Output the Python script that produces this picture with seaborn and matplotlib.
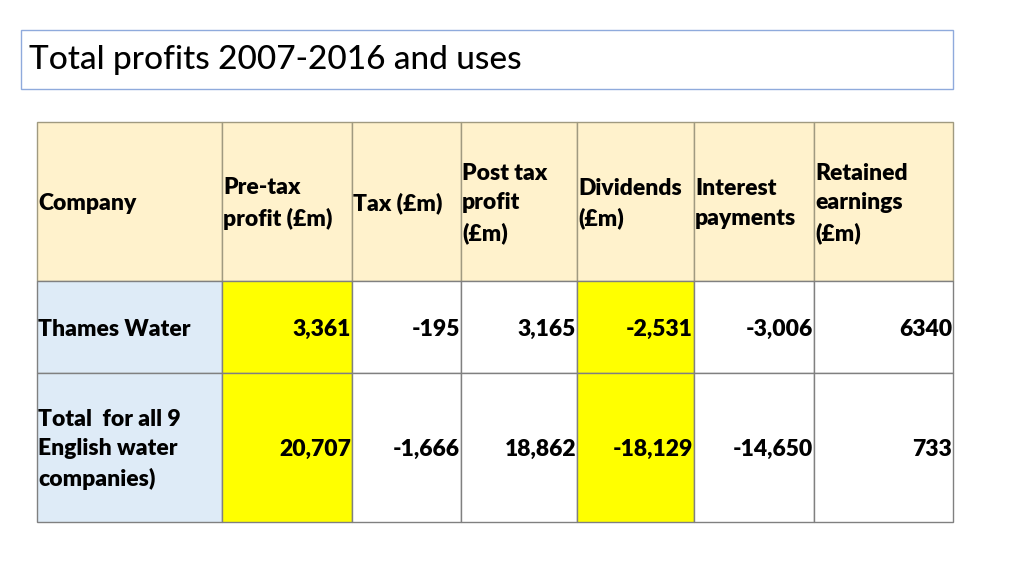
import matplotlib
matplotlib.use("Agg")
import matplotlib.pyplot as plt
from matplotlib.patches import Rectangle
import seaborn as sns

sns.set_theme(style="white")
plt.rcParams['font.family'] = ['Lato', 'DejaVu Sans']

title = "Total profits 2007-2016 and uses"
headers = ["Company", "Pre-tax\nprofit (£m)", "Tax (£m)", "Post tax\nprofit\n(£m)",
           "Dividends\n(£m)", "Interest\npayments", "Retained\nearnings\n(£m)"]
companies = ["Thames Water", "Total  for all 9\nEnglish water\ncompanies)"]
pre_tax = ["3,361", "20,707"]
tax = ["-195", "-1,666"]
post_tax = ["3,165", "18,862"]
dividends = ["-2,531", "-18,129"]
interest = ["-3,006", "-14,650"]
retained = ["6340", "733"]
highlight_cols = [1, 4]

# layout (pixels)
col_edges = [37, 222, 352, 461, 577, 694, 814, 953]
row_edges = [122, 281, 373, 522]

HEADER_BG = "#FFF2CC"
COMPANY_BG = "#DEEBF7"
YELLOW = "#FFFF00"
GRID = "#808080"
FS = 16.5
W = "heavy"

fig = plt.figure(figsize=(10.24, 5.76), dpi=100)
ax = fig.add_axes([0, 0, 1, 1])
ax.set_xlim(0, 1024)
ax.set_ylim(576, 0)
ax.axis("off")

# title box
ax.add_patch(Rectangle((21, 30), 932, 59, facecolor="white", edgecolor="#8FAADC", lw=1.0))
ax.text(29, 60, title, fontsize=24, fontweight="medium", va="center", ha="left", color="black")

data_cols = [pre_tax, tax, post_tax, dividends, interest, retained]

ncols = len(headers)
# header cells
for j in range(ncols):
    x0, x1 = col_edges[j], col_edges[j + 1]
    y0, y1 = row_edges[0], row_edges[1]
    ax.add_patch(Rectangle((x0, y0), x1 - x0, y1 - y0, facecolor=HEADER_BG,
                           edgecolor="#A09A80", lw=1.0))
    ax.text(x0 + 1, (y0 + y1) / 2 + 2, headers[j], fontsize=FS, fontweight=W,
            va="center", ha="left", linespacing=1.5, color="black")

# body cells
for i in range(len(companies)):
    y0, y1 = row_edges[i + 1], row_edges[i + 2]
    for j in range(ncols):
        x0, x1 = col_edges[j], col_edges[j + 1]
        if j == 0:
            fc = COMPANY_BG
        elif j in highlight_cols:
            fc = YELLOW
        else:
            fc = "white"
        ax.add_patch(Rectangle((x0, y0), x1 - x0, y1 - y0, facecolor=fc,
                               edgecolor=GRID, lw=1.0))
        if j == 0:
            ax.text(x0 + 1, (y0 + y1) / 2 + 2, companies[i], fontsize=FS, fontweight=W,
                    va="center", ha="left", linespacing=1.5, color="black")
        else:
            ax.text(x1 - 1, (y0 + y1) / 2 + 2, data_cols[j - 1][i], fontsize=FS,
                    fontweight=W, va="center", ha="right", color="black")

fig.savefig("out.png", dpi=100, facecolor="white")
